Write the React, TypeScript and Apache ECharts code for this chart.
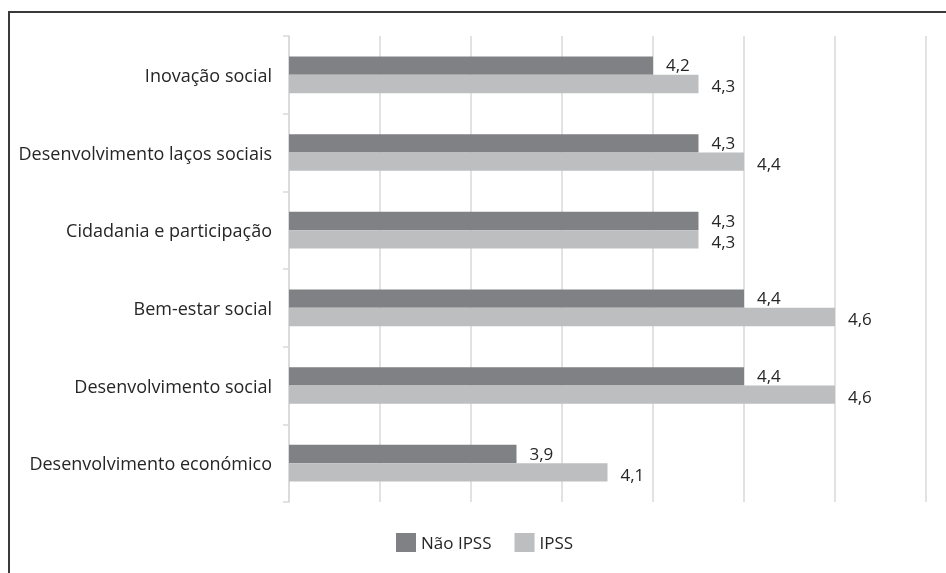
import React, { useEffect, useRef } from "react";
import * as echarts from "echarts";

const categories = [
  "Desenvolvimento económico",
  "Desenvolvimento social",
  "Bem-estar social",
  "Cidadania e participação",
  "Desenvolvimento laços sociais",
  "Inovação social",
];
const naoIpss = [3.9, 4.4, 4.4, 4.3, 4.3, 4.2];
const ipss = [4.1, 4.6, 4.6, 4.3, 4.4, 4.3];
const seriesNames = ["Não IPSS", "IPSS"];

const FONT = "Open Sans";

export default function App() {
  const ref = useRef<HTMLDivElement>(null);
  useEffect(() => {
    if (!ref.current) return;
    const chart = echarts.init(ref.current, null, { renderer: "svg" });
    const label = (dy: number) => ({
      show: true,
      position: "right",
      distance: 13,
      offset: [0, dy],
      color: "#262626",
      fontFamily: FONT,
      fontSize: 17,
      lineHeight: 17,
      formatter: (p: any) => String(p.value).replace(".", ","),
    });
    chart.setOption({
      animation: false,
      textStyle: { fontFamily: FONT },
      grid: { left: 289, right: 20, top: 36, bottom: 71, containLabel: false },
      legend: {
        data: seriesNames,
        left: 391,
        top: 528,
        itemWidth: 20,
        itemHeight: 19,
        itemGap: 23,
        icon: "rect",
        textStyle: { color: "#262626", fontSize: 17, fontFamily: FONT },
      },
      xAxis: {
        type: "value",
        min: 3.4,
        max: 4.8,
        interval: 0.2,
        axisLabel: { show: false },
        axisLine: { show: false },
        axisTick: { show: false },
        splitLine: { lineStyle: { color: "#d9d9d9", width: 1.5 } },
      },
      yAxis: {
        type: "category",
        data: categories,
        axisLine: { lineStyle: { color: "#d9d9d9", width: 1.5 } },
        axisTick: { show: true, length: 6, lineStyle: { color: "#d9d9d9", width: 1.5 } },
        axisLabel: { color: "#262626", fontSize: 18, fontFamily: FONT, margin: 17 },
      },
      series: [
        {
          name: seriesNames[0],
          type: "bar",
          data: naoIpss,
          barWidth: 18.3,
          barGap: "0%",
          itemStyle: { color: "#808184" },
          label: label(-1),
        },
        {
          name: seriesNames[1],
          type: "bar",
          data: ipss,
          barWidth: 18.3,
          barGap: "0%",
          itemStyle: { color: "#bdbec0" },
          label: label(2),
        },
      ],
      graphic: [
        { type: "line", shape: { x1: 9, y1: 12, x2: 9, y2: 573 }, style: { stroke: "#3a3a3a", lineWidth: 2 } },
        { type: "line", shape: { x1: 8, y1: 12, x2: 946, y2: 12 }, style: { stroke: "#3a3a3a", lineWidth: 2 } },
      ],
    });
    return () => chart.dispose();
  }, []);
  return <div ref={ref} style={{ position: "fixed", left: 0, top: 0, width: 946, height: 573 }} />;
}
